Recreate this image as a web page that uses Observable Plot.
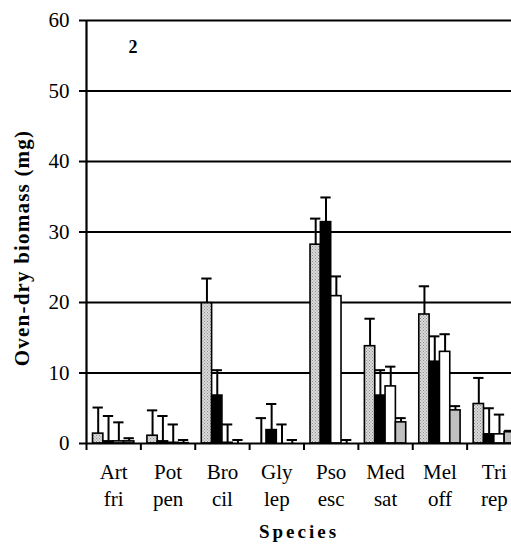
<!DOCTYPE html>
<html>
<head>
<meta charset="utf-8">
<script src="https://cdn.jsdelivr.net/npm/d3@7"></script>
<script src="https://cdn.jsdelivr.net/npm/@observablehq/plot@0.6"></script>
<style>
  html, body { margin: 0; padding: 0; background: #fff; }
  #chart svg { display: block; }
  #chart svg, #chart svg text { font-family: "Liberation Serif", "Times New Roman", serif !important; }
</style>
</head>
<body>
<div id="chart"></div>
<script>
// ---- data ----
const species = ["Art\nfri", "Pot\npen", "Bro\ncil", "Gly\nlep", "Pso\nesc", "Med\nsat", "Mel\noff", "Tri\nrep"];
const treatments = ["Treatment 1", "Treatment 2", "Treatment 3", "Treatment 4"];
const t1 = [1.4, 1.1, 19.9, 0, 28.2, 13.8, 18.3, 5.6];
const t1Err = [3.7, 3.6, 3.5, 3.6, 3.7, 3.9, 4.0, 3.7];
const t2 = [0.3, 0.3, 6.8, 1.9, 31.4, 6.8, 11.6, 1.3];
const t2Err = [3.6, 3.6, 3.6, 3.7, 3.5, 3.6, 3.6, 3.7];
const t3 = [0.3, 0.1, 0.1, 0, 20.9, 8.1, 13.0, 1.3];
const t3Err = [2.7, 2.6, 2.6, 2.7, 2.8, 2.8, 2.5, 2.8];
const t4 = [0.3, 0.05, 0, 0, 0, 3.0, 4.7, 1.6];
const t4Err = [0.45, 0.45, 0.5, 0.5, 0.5, 0.6, 0.6, 0.2];
const yTicks = [0, 10, 20, 30, 40, 50, 60];
const panelLabel = "2";
const yTitle = "Oven-dry biomass (mg)";
const xTitle = "Species";

// ---- styles / layout ----
const fills = ["url(#hatch)", "#000000", "#ffffff", "#c0c0c0"];
const pad = 0.12, bw = 0.19;   // group padding and bar width as fraction of a category
const font = "Liberation Serif";

const vals = [t1, t2, t3, t4];
const errs = [t1Err, t2Err, t3Err, t4Err];
const rows = species.flatMap((s, i) => treatments.map((t, j) => ({
  species: s, treatment: t, value: vals[j][i], err: errs[j][i],
  x1: i + pad + j * bw, x2: i + pad + (j + 1) * bw, xc: i + pad + (j + 0.5) * bw
})));

const plot = Plot.plot({
  width: 511,
  height: 548,
  marginTop: 20,
  marginLeft: 86,
  marginBottom: 105,
  marginRight: 0,
  style: { fontFamily: font, background: "#fff", color: "#000" },
  x: { type: "linear", domain: [0, species.length], range: [86, 521] },
  y: { domain: [0, 60], range: [443, 20] },
  color: { domain: treatments, range: fills },
  marks: [
    Plot.ruleY(yTicks.filter(d => d > 0), { x1: 0, x2: species.length, stroke: "#000", strokeWidth: 1.8 }),
    Plot.rect(rows, { x1: "x1", x2: "x2", y1: 0, y2: "value", fill: "treatment", stroke: "#000", strokeWidth: 1.6 }),
    Plot.ruleX(rows, { x: "xc", y1: "value", y2: d => d.value + d.err, stroke: "#000", strokeWidth: 2 }),
    Plot.ruleY(rows, { y: d => d.value + d.err, x1: d => d.xc - bw / 2, x2: d => d.xc + bw / 2, stroke: "#000", strokeWidth: 2 }),
    Plot.ruleX([0], { stroke: "#000", strokeWidth: 2.2 }),
    Plot.ruleY([0], { stroke: "#000", strokeWidth: 2.2 }),
    Plot.axisY({ ticks: yTicks, tickSize: 7, tickPadding: 10, fontSize: 21, strokeWidth: 2, label: null }),
    Plot.axisX({ ticks: d3.range(0, species.length + 1), tickSize: 7, tickFormat: () => "", strokeWidth: 2, label: null }),
    Plot.axisX({ ticks: species.map((_, i) => i + 0.5), tickSize: 0, tickPadding: 16, fontSize: 21, lineHeight: 1.3,
                 tickFormat: v => species[Math.floor(v)], label: null }),
    Plot.text([panelLabel], { text: d => d, frameAnchor: "top-left", dx: 42, dy: 20, fontSize: 18, fontWeight: "bold" }),
    Plot.text([yTitle], { text: d => d, frameAnchor: "left", textAnchor: "middle", rotate: -90, dx: -64, dy: 16,
                 fontSize: 21, fontWeight: "bold" }),
    Plot.text([xTitle], { text: d => d, frameAnchor: "bottom", dy: 94, fontSize: 19, fontWeight: "bold" })
  ]
});

// hatch pattern for the first treatment
const svgNS = "http://www.w3.org/2000/svg";
const defs = document.createElementNS(svgNS, "defs");
defs.innerHTML = `<pattern id="hatch" width="3" height="3" patternUnits="userSpaceOnUse">
  <rect width="3" height="3" fill="#dadada"></rect>
  <rect x="0" y="0" width="1" height="1" fill="#8e8e8e"></rect>
  <rect x="1.5" y="1.5" width="1" height="1" fill="#8e8e8e"></rect>
</pattern>`;
plot.insertBefore(defs, plot.firstChild);
// tick label sizes and title letter spacing
d3.select(plot).selectAll('g[aria-label="y-axis tick label"]').attr("font-size", 21).style("font-size", "21px");
d3.select(plot).selectAll('g[aria-label="x-axis tick label"]').attr("font-size", 21).style("font-size", "21px");
d3.select(plot).selectAll("text").each(function () {
  const t = this.textContent;
  if (t === yTitle) this.style.letterSpacing = "1.2px";
  if (t === xTitle) this.style.letterSpacing = "3px";
});
document.getElementById("chart").appendChild(plot);
</script>
</body>
</html>
